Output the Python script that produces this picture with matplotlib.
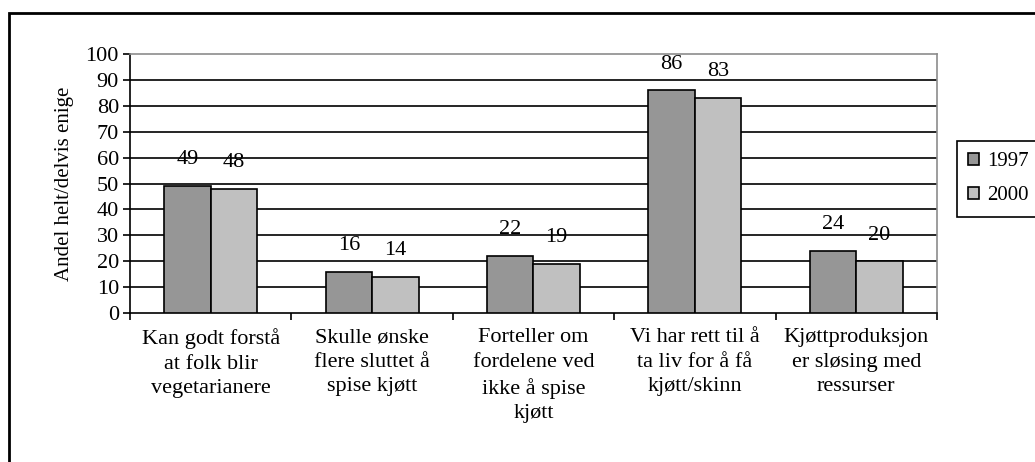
import matplotlib.pyplot as plt
from matplotlib.patches import Patch, Rectangle

plt.rcParams['font.family'] = ['Liberation Serif', 'DejaVu Serif']

categories = [
    "Kan godt forstå\nat folk blir\nvegetarianere",
    "Skulle ønske\nflere sluttet å\nspise kjøtt",
    "Forteller om\nfordelene ved\nikke å spise\nkjøtt",
    "Vi har rett til å\nta liv for å få\nkjøtt/skinn",
    "Kjøttproduksjon\ner sløsing med\nressurser",
]
years = ["1997", "2000"]
values_1997 = [49, 16, 22, 86, 24]
values_2000 = [48, 14, 19, 83, 20]
colors = ["#969696", "#c0c0c0"]

FS = 16

fig = plt.figure(figsize=(10.35, 4.62), dpi=100)
ax = fig.add_axes([0.1256, 0.3225, 0.7797, 0.5606])

# outer frame of the figure (right/bottom edges run off the canvas)
fig.patches.append(Rectangle((9 / 1035, -0.1), 1.2, 1.1 - 13 / 462,
                             transform=fig.transFigure, fill=False,
                             edgecolor="black", linewidth=2, zorder=0))

w = 0.288
xs = range(len(categories))
for k, (vals, col) in enumerate([(values_1997, colors[0]), (values_2000, colors[1])]):
    offs = (k - 0.5) * w
    bars = ax.bar([x + offs for x in xs], vals, width=w, color=col,
                  edgecolor="black", linewidth=1.2, zorder=3)
    for b, v in zip(bars, vals):
        ax.annotate(str(v), (b.get_x() + b.get_width() / 2, v),
                    xytext=(0, 12), textcoords="offset points",
                    ha="center", va="bottom", fontsize=FS, zorder=4)

ax.set_xlim(-0.5, len(categories) - 0.5)
ax.set_ylim(0, 100)
ax.set_yticks(range(0, 101, 10))
for y in range(10, 100, 10):
    ax.axhline(y, color="black", linewidth=1.2, zorder=1)

ax.set_xticks([i - 0.5 for i in range(len(categories) + 1)])
ax.set_xticklabels([])
ax.set_xticks(list(xs), minor=True)
ax.set_xticklabels(categories, minor=True, fontsize=FS, linespacing=1.38)
ax.tick_params(axis="x", which="minor", length=0, pad=11)
ax.tick_params(axis="x", which="major", length=5, width=1.2, direction="out")
ax.tick_params(axis="y", length=5, width=1.2, direction="out", labelsize=FS, pad=3)

ax.spines["left"].set_linewidth(1.2)
ax.spines["bottom"].set_linewidth(1.2)
ax.spines["top"].set_color("#8c8c8c")
ax.spines["right"].set_color("#8c8c8c")
ax.spines["top"].set_linewidth(1.2)
ax.spines["right"].set_linewidth(1.2)

ax.set_ylabel("Andel helt/delvis enige", fontsize=15, labelpad=8)

handles = [Patch(facecolor=c, edgecolor="black", linewidth=1.2, label=y)
           for c, y in zip(colors, years)]
leg = fig.legend(handles=handles, loc="upper left",
                 bbox_to_anchor=(957 / 1035, 1 - 141 / 462),
                 borderaxespad=0,
                 fontsize=15, handlelength=0.5, handleheight=0.5,
                 handletextpad=0.4, labelspacing=0.7, borderpad=0.55,
                 fancybox=False, framealpha=1, edgecolor="black")
leg.get_frame().set_linewidth(1.2)

fig.savefig("out.png", dpi=100, facecolor="white")
